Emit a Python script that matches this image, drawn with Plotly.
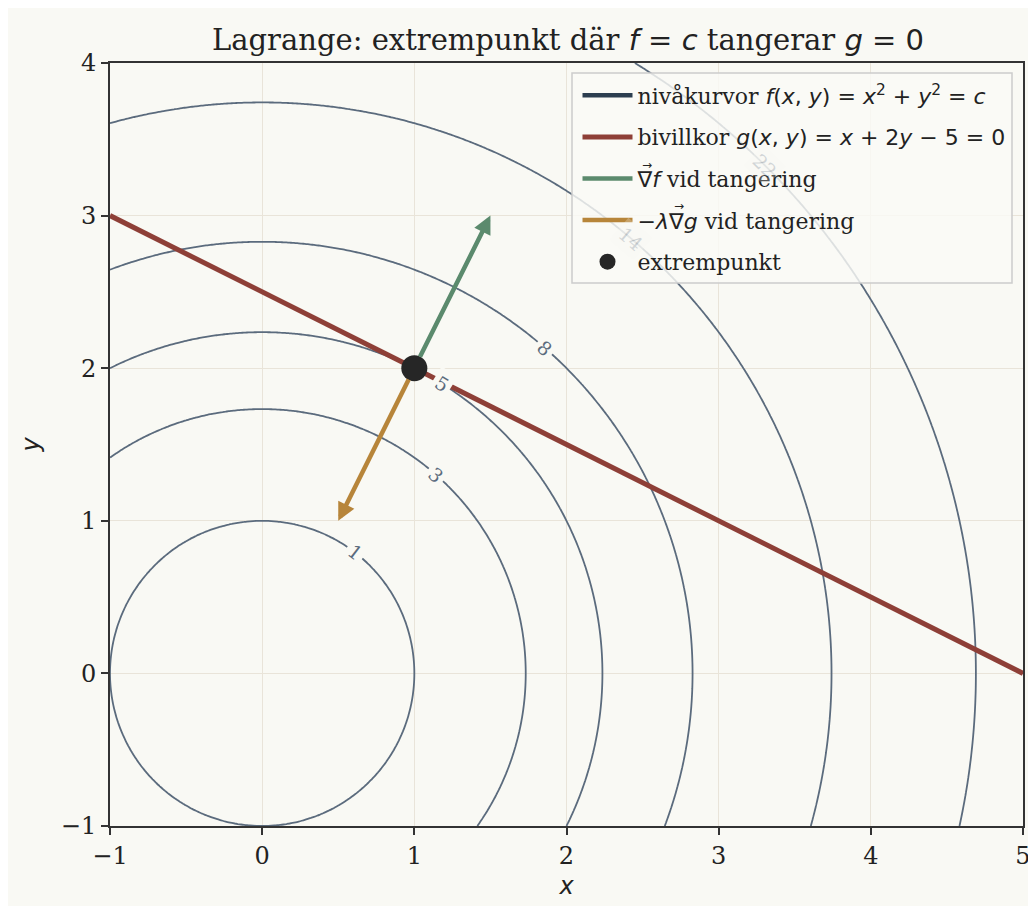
import numpy as np
import plotly.graph_objects as go

# ---- data ----
levels = [1, 3, 5, 8, 14, 22]
label_angles_deg = [52.5, 48.7, 58.0, 49.0, 49.6, 45.2]
constraint_x = [-1, 5]
constraint_y = [(5 - x) / 2 for x in constraint_x]
ext_point = (1.0, 2.0)
grad_f_tip = (1.5, 3.0)
neg_lambda_grad_g_tip = (0.5, 1.0)

BG = "#f9f9f4"
GRID = "#e9e4d9"
CONT = "#5b6b7d"
RED = "#8e3f37"
GREEN = "#5b8a6d"
ORANGE = "#b7853a"
DARK = "#262626"
SERIF = "DejaVu Serif"
SANS = "DejaVu Sans"

xs = np.linspace(-1, 5, 301)
ys = np.linspace(-1, 4, 251)
X, Y = np.meshgrid(xs, ys)
Z = X**2 + Y**2

fig = go.Figure()
for c in levels:
    fig.add_trace(go.Contour(
        x=xs, y=ys, z=Z, showscale=False, showlegend=False, hoverinfo="skip",
        contours=dict(start=c, end=c, size=1, coloring="none"),
        line=dict(color=CONT, width=1.8),
    ))

fig.add_trace(go.Scatter(x=[None], y=[None], mode="lines", legendgroup="a",
    line=dict(color="#2c3e50", width=4.5),
    name="nivåkurvor <span style='font-family:DejaVu Sans'><i>f</i>(<i>x</i>, <i>y</i>) = <i>x</i><sup>2</sup> + <i>y</i><sup>2</sup> = <i>c</i></span>"))
fig.add_trace(go.Scatter(x=constraint_x, y=constraint_y, mode="lines", legendgroup="b",
    line=dict(color=RED, width=5),
    name="bivillkor <span style='font-family:DejaVu Sans'><i>g</i>(<i>x</i>, <i>y</i>) = <i>x</i> + 2<i>y</i> − 5 = 0</span>"))
fig.add_trace(go.Scatter(x=[None], y=[None], mode="lines", legendgroup="c",
    line=dict(color=GREEN, width=4.5),
    name="<span style='font-family:DejaVu Sans'>∇<i>f</i></span> vid tangering"))
fig.add_trace(go.Scatter(x=[None], y=[None], mode="lines", legendgroup="d",
    line=dict(color=ORANGE, width=4.5),
    name="<span style='font-family:DejaVu Sans'>−<i>λ</i>∇<i>g</i></span> vid tangering"))
fig.add_trace(go.Scatter(x=[ext_point[0]], y=[ext_point[1]], mode="markers", legendgroup="e",
    marker=dict(color=DARK, size=26),
    name="extrempunkt"))

def xp(px):
    return (px - 110) / 913
def yp(py):
    return (826 - py) / 763

LEG = dict(left=572, right=1012, top=73, bottom=283)

annotations = []
for c, a in zip(levels, label_angles_deg):
    r = np.sqrt(c)
    t = np.deg2rad(a)
    lx, ly = r * np.cos(t), r * np.sin(t)
    px = 110 + (lx + 1) * 913 / 6
    py = 826 - (ly + 1) * 763 / 5
    inside = LEG["left"] < px < LEG["right"] and LEG["top"] < py < LEG["bottom"]
    annotations.append(dict(
        x=lx, y=ly, xref="x", yref="y",
        text=str(c), showarrow=False, textangle=90 - a,
        font=dict(family=SERIF, size=19, color=CONT),
        bgcolor=BG, borderpad=3, opacity=0.25 if inside else 1,
    ))
for tip, col in [(grad_f_tip, GREEN), (neg_lambda_grad_g_tip, ORANGE)]:
    annotations.append(dict(
        x=tip[0], y=tip[1], ax=ext_point[0], ay=ext_point[1],
        xref="x", yref="y", axref="x", ayref="y",
        text="", showarrow=True, arrowhead=2, arrowsize=0.8,
        arrowwidth=4.5, arrowcolor=col, startstandoff=11,
    ))
# small vector arrows over the nabla symbols in the legend
for px, py in [(647, 165), (679, 206)]:
    annotations.append(dict(
        x=xp(px), y=yp(py), xref="paper", yref="paper", showarrow=False,
        xanchor="center", yanchor="middle",
        text="→", font=dict(family=SANS, size=12, color="#222222"),
        borderpad=0,
    ))

legend_box = dict(
    type="rect", xref="paper", yref="paper",
    x0=xp(LEG["left"]), x1=xp(LEG["right"]), y0=yp(LEG["bottom"]), y1=yp(LEG["top"]),
    fillcolor="rgba(250,250,246,0.82)", line=dict(color="#cccccc", width=1.5),
    layer="above",
)

fig.update_layout(
    width=1036, height=906,
    margin=dict(l=102, r=21, t=55, b=88),
    paper_bgcolor=BG, plot_bgcolor=BG,
    font=dict(family=SERIF, size=24, color="#222222"),
    title=dict(
        text="Lagrange: extrempunkt där <span style='font-family:DejaVu Sans'><i>f</i> = <i>c</i></span> tangerar <span style='font-family:DejaVu Sans'><i>g</i> = 0</span>",
        x=560 / 1036, xanchor="center", y=1 - 32 / 906, yanchor="middle",
        font=dict(family=SERIF, size=29, color="#222222"),
    ),
    shapes=[legend_box],
    annotations=annotations,
    showlegend=True,
    legend=dict(
        x=xp(1012), y=yp(73), xanchor="right", yanchor="top",
        bgcolor="rgba(0,0,0,0)", bordercolor="rgba(0,0,0,0)", borderwidth=1.5,
        font=dict(family=SERIF, size=22, color="#222222"),
        itemwidth=50, tracegroupgap=10,
    ),
)
axis_common = dict(
    showgrid=True, gridcolor=GRID, gridwidth=1.2, zeroline=False,
    showline=True, linecolor="#333333", linewidth=2, mirror=True,
    ticks="outside", ticklen=7, tickwidth=1.5, tickcolor="#333333",
    tickfont=dict(family=SERIF, size=24, color="#222222"),
)
fig.update_xaxes(range=[-1, 5], dtick=1, **axis_common,
    title=dict(text="<i>x</i>", font=dict(family=SANS, size=24), standoff=8))
fig.update_yaxes(range=[-1, 4], dtick=1, **axis_common,
    title=dict(text="<i>y</i>", font=dict(family=SANS, size=24), standoff=14))

fig.write_html("out.html")
